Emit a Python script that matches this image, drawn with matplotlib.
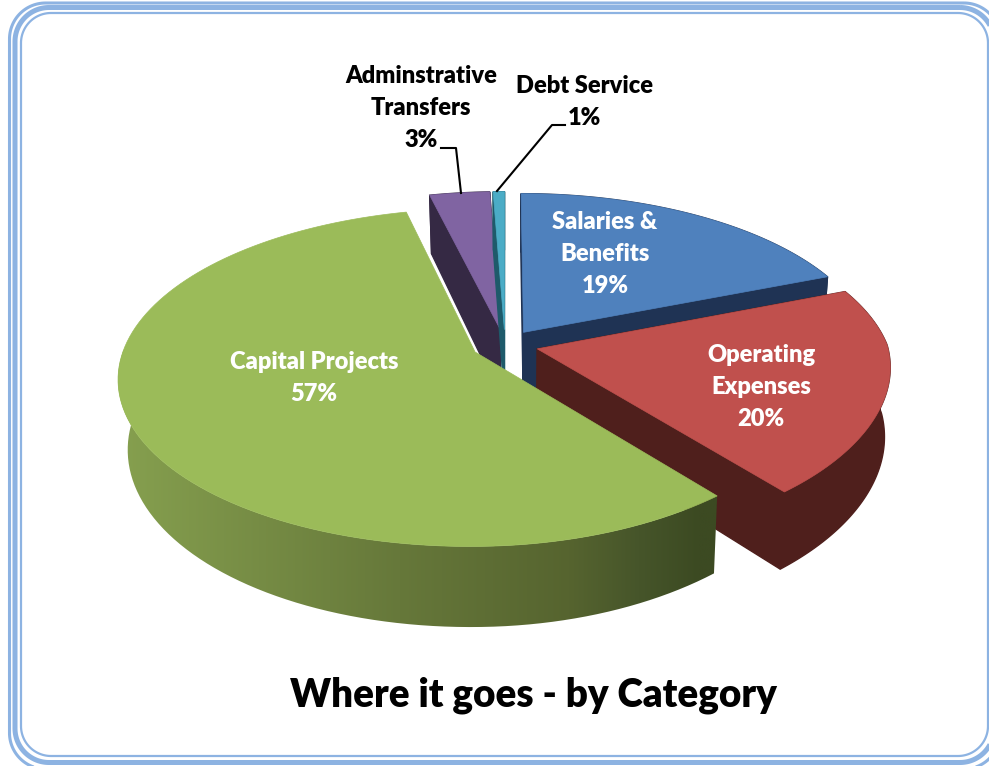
import numpy as np
from matplotlib import pyplot as plt
from matplotlib.patches import Polygon
from matplotlib.colors import to_rgb

# chart data
categories = ['Salaries &\nBenefits', 'Operating\nExpenses', 'Capital Projects', 'Adminstrative\nTransfers', 'Debt Service']
shares = [19, 20, 57.2, 3.2, 0.6]
title = 'Where it goes - by Category'

top_colors = ['#4f81bd', '#c0504d', '#9bbb59', '#8064a2', '#4bacc6']
wall_colors = ['#1f3354', '#4f1f1c', None, '#352944', '#1e5a6a']
green_stops = [(118, '#86a04f'), (400, '#66783a'), (570, '#56642f'), (640, '#46552a'), (700, '#3c4a22')]
label_pos = [(605, 254), (761, 387), (314, 378), (421, 108), (584, 102)]
label_color = ['white', 'white', 'white', 'black', 'black']

# projection of the pie plane on the page
CX, CY = 505, 345
A, B = 350, 163
K = 0.15
DEPTH = 68
EXPLODE = 0.095
SHEAR = 18


def project(u, v, down=False):
	s = 1 / (1 - K * v)
	x = A * u * s - SHEAR * max(u, 0) * max(v, 0)
	y = B * v * s
	if down:
		shrink = 0.985 if x > 0 else 0.975
		return CX + x * shrink, CY + y + DEPTH * s
	return CX + x, CY + y


def rounded_rect(x0, y0, x1, y1, r, **kw):
	t = np.linspace(0, np.pi / 2, 30)
	xs = np.concatenate([x1 - r + r * np.sin(t), x1 - r + r * np.cos(t), x0 + r - r * np.sin(t), x0 + r - r * np.cos(t)])
	ys = np.concatenate([y0 + r - r * np.cos(t), y1 - r + r * np.sin(t), y1 - r + r * np.cos(t), y0 + r - r * np.sin(t)])
	ax.add_patch(Polygon(np.column_stack([xs, ys]), closed=True, fc='none', **kw))


fig = plt.figure(figsize=(9.89, 7.66), dpi=100)
ax = fig.add_axes([0, 0, 1, 1])

# frame
rounded_rect(9.5, 3, 1000, 769, 36, ec='#8db3e2', lw=2.2)
rounded_rect(15, 7.5, 994, 762.5, 34, ec='#8db3e2', lw=3.6)
rounded_rect(21, 13, 988, 756, 30, ec='#8db3e2', lw=1.6)

# wedge angles, clockwise from 12 o'clock
total = sum(shares)
edges = np.deg2rad(np.cumsum([0] + shares) / total * 360)
wedges = []
for i in range(len(shares)):
	t = np.linspace(edges[i], edges[i + 1], 120)
	mid = (edges[i] + edges[i + 1]) / 2
	ou, ov = EXPLODE * np.sin(mid), -EXPLODE * np.cos(mid)
	wedges.append((i, t, ou, ov))

# back wedges first, the big green one last
z = 2
for i, t, ou, ov in [wedges[k] for k in (0, 3, 4, 1, 2)]:
	u = np.sin(t) + ou
	v = -np.cos(t) + ov
	top = np.array([project(a, b) for a, b in zip(u, v)])
	bot = np.array([project(a, b, True) for a, b in zip(u, v)])
	atop = project(ou, ov)
	abot = project(ou, ov, True)

	if wall_colors[i] is not None:
		c = wall_colors[i]
		ax.add_patch(Polygon([atop, top[0], bot[0], abot], fc=c, ec=c, lw=1, zorder=z))
		ax.add_patch(Polygon([atop, top[-1], bot[-1], abot], fc=c, ec=c, lw=1, zorder=z))
		ax.add_patch(Polygon(np.vstack([top, bot[::-1]]), fc=c, ec=c, lw=1, zorder=z))
	else:
		# shaded outer wall, gradient image clipped to the wall
		xs = np.linspace(100, 730, 400)
		stops_x = [p[0] for p in green_stops]
		stops_c = np.array([to_rgb(p[1]) for p in green_stops])
		grad = np.stack([np.interp(xs, stops_x, stops_c[:, n]) for n in range(3)], axis=1)[None, :, :]
		im = ax.imshow(grad, extent=(100, 730, 660, 350), aspect='auto', zorder=z, interpolation='bilinear')
		wall = Polygon(np.vstack([top, bot[::-1]]), fc='none', ec='none', transform=ax.transData)
		ax.add_patch(wall)
		im.set_clip_path(wall)
	ax.add_patch(Polygon(np.vstack([[atop], top]), fc=top_colors[i], ec=top_colors[i], lw=0.5, zorder=z + 0.5))
	z += 1

# labels
for name, pct, pos, col in zip(categories, shares, label_pos, label_color):
	ax.text(pos[0], pos[1], f'{name}\n{round(pct)}%', ha='center', va='center', color=col, zorder=20,
		fontsize=17, fontweight=800, family='Lato', linespacing=1.57)

# leader lines
ax.plot([441, 456, 461], [148, 148, 193], color='black', lw=1.5, zorder=20)
ax.plot([565, 552, 497], [125, 125, 191], color='black', lw=1.5, zorder=20)

ax.text(533, 695, title, ha='center', va='center', color='black', fontsize=27.8, fontweight=800, family='Lato', zorder=20)

ax.set_xlim(0, 989)
ax.set_ylim(766, 0)
ax.axis('off')

fig.savefig('out.png', dpi=100)
